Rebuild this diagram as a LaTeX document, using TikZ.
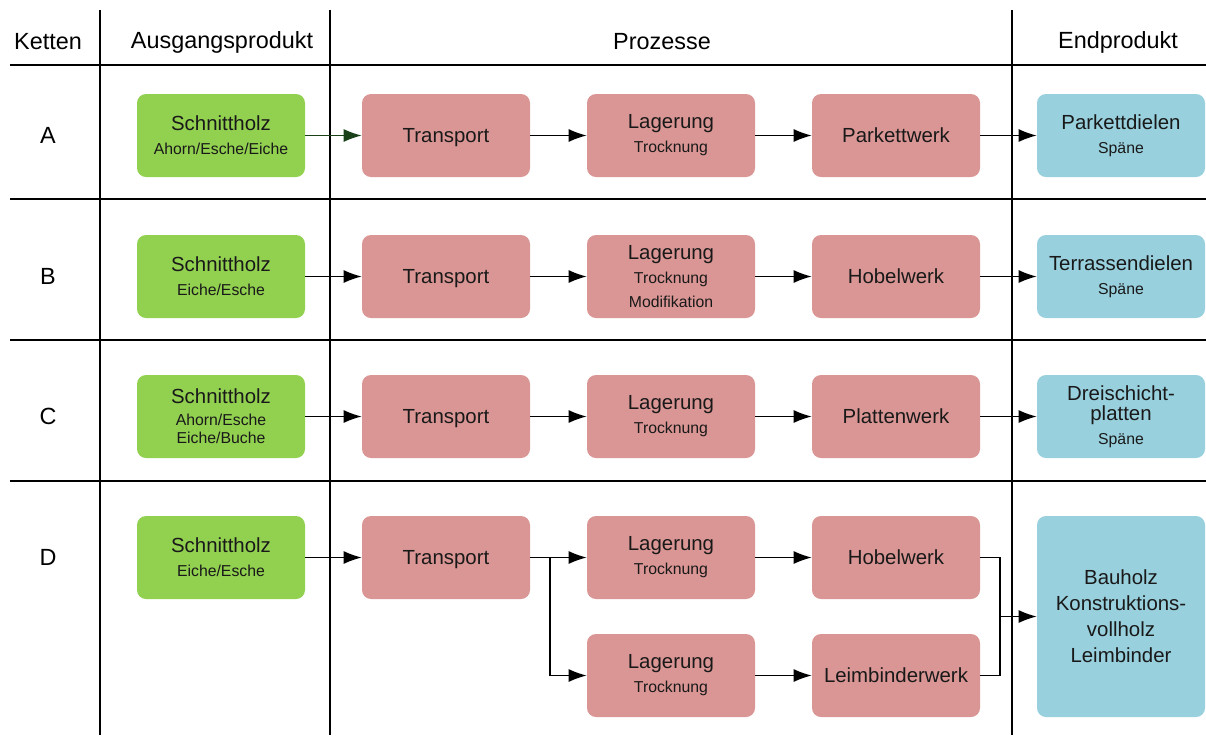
\documentclass[tikz,border=0pt]{standalone}
\usepackage{fontspec}
\setmainfont{Liberation Sans}
\usetikzlibrary{arrows.meta}
\definecolor{holzgruen}{HTML}{92D050}
\definecolor{prozessrot}{HTML}{DA9694}
\definecolor{endblau}{HTML}{98D0DD}
\definecolor{pfeilgruen}{HTML}{1A401A}
\newcommand{\klein}[1]{{\fontsize{7.9}{9.5}\selectfont #1}}

\begin{document}
\begin{tikzpicture}[x=0.5pt,y=-0.5pt,
  kasten/.style={rounded corners=4.5pt,minimum width=84pt,minimum height=41.5pt,
    align=center,inner sep=0pt,text=black!90,font=\fontsize{10.2}{12}\selectfont},
  roh/.style={kasten,fill=holzgruen},
  proz/.style={kasten,fill=prozessrot},
  ende/.style={kasten,fill=endblau},
  linie/.style={line width=0.8pt},
  pfeil/.style={line width=0.55pt,-{Latex[length=9pt,width=6.5pt]}},
  kopf/.style={font=\fontsize{11.7}{14}\selectfont}]
 \useasboundingbox (0,0) rectangle (1206,735);

 % Tabellenraster
 \foreach \x in {100,330,1012}
  {
    \draw[linie] (\x,10) -- (\x,735);
  }
 \foreach \y in {65,199,340,481}
  {
    \draw[linie] (10,\y) -- (1206,\y);
  }

 % Kopfzeile
 \node[kopf] (hKetten) at (48,42) {Ketten};
 \node[kopf] (hAus) at (222,42) {Ausgangsprodukt};
 \node[kopf] (hProz) at (662,42) {Prozesse};
 \node[kopf] (hEnd) at (1118,42) {Endprodukt};

 % Ketten A bis D
 \foreach \r/\y in {A/135.5, B/276.5, C/416.5, D/557.5}
  {
    \node[kopf] (k\r) at (48,\y) {\r};
    \node[proz,text depth=0pt] (t\r) at (446,\y) {Transport};
  }

 % Kette A
 \node[roh] (gA) at (221,135.5) {Schnittholz\\\klein{Ahorn/Esche/Eiche}};
 \node[proz] (lA) at (671,135.5) {Lagerung\\\klein{Trocknung}};
 \node[proz] (wA) at (896,135.5) {Parkettwerk};
 \node[ende] (eA) at (1121,135.5) {Parkettdielen\\\klein{Späne}};

 % Kette B
 \node[roh] (gB) at (221,276.5) {Schnittholz\\\klein{Eiche/Esche}};
 \node[proz] (lB) at (671,276.5) {Lagerung\\\klein{Trocknung}\\\klein{Modifikation}};
 \node[proz] (wB) at (896,276.5) {Hobelwerk};
 \node[ende] (eB) at (1121,276.5) {Terrassendielen\\\klein{Späne}};

 % Kette C
 \node[roh] (gC) at (221,416.5) {Schnittholz\\[-1pt]\klein{Ahorn/Esche}\\[-3pt]\klein{Eiche/Buche}};
 \node[proz] (lC) at (671,416.5) {Lagerung\\\klein{Trocknung}};
 \node[proz] (wC) at (896,416.5) {Plattenwerk};
 \node[ende] (eC) at (1121,416.5) {Dreischicht-\\[-2pt]platten\\\klein{Späne}};

 % Kette D
 \node[roh] (gD) at (221,557.5) {Schnittholz\\\klein{Eiche/Esche}};
 \node[proz] (lD) at (671,557.5) {Lagerung\\\klein{Trocknung}};
 \node[proz] (wD) at (896,557.5) {Hobelwerk};
 \node[proz] (lD2) at (671,675.5) {Lagerung\\\klein{Trocknung}};
 \node[proz] (wD2) at (896,675.5) {Leimbinderwerk};
 \node[ende,minimum height=100.5pt] (eD) at (1121,616.5)
   {Bauholz\\[1pt]Konstruktions-\\[1pt]vollholz\\[1pt]Leimbinder};

 % Pfeile
 \draw[pfeil,pfeilgruen] (gA) -- (tA);
 \foreach \r in {B,C,D}
  {
    \draw[pfeil] (g\r) -- (t\r);
  }
 \foreach \r in {A,B,C}
  {
    \draw[pfeil] (t\r) -- (l\r);
    \draw[pfeil] (l\r) -- (w\r);
    \draw[pfeil] (w\r) -- (e\r);
  }
 \coordinate (vD) at (550,557.5);
 \coordinate (zD) at (1000,616.5);
 \draw[line width=0.55pt] (tD) -- (vD);
 \draw[pfeil] (vD) -- (lD);
 \draw[pfeil] (vD) |- (lD2);
 \draw[pfeil] (lD) -- (wD);
 \draw[pfeil] (lD2) -- (wD2);
 \draw[line width=0.55pt] (wD) -| (zD);
 \draw[line width=0.55pt] (wD2) -| (zD);
 \draw[pfeil] (zD) -- (eD);
\end{tikzpicture}
\end{document}
